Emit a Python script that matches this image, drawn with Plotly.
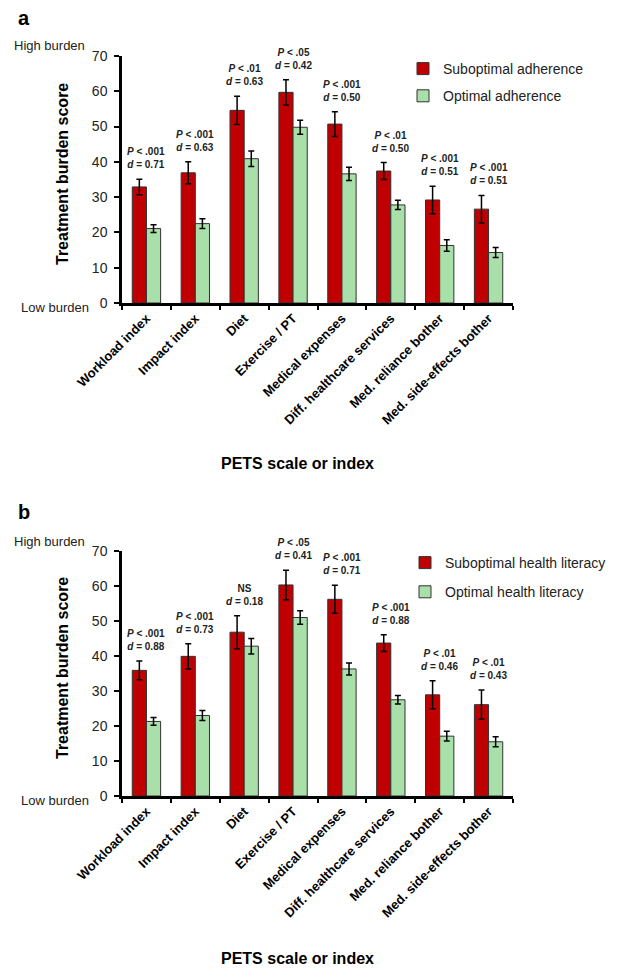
import plotly.graph_objects as go

categories = ["Workload index", "Impact index", "Diet", "Exercise / PT",
              "Medical expenses", "Diff. healthcare services",
              "Med. reliance bother", "Med. side-effects bother"]

# Panel a: adherence
a_sub = [32.9, 36.9, 54.6, 59.7, 50.7, 37.4, 29.2, 26.6]
a_sub_err = [2.2, 3.1, 4.0, 3.6, 3.5, 2.4, 3.9, 3.9]
a_opt = [21.1, 22.5, 40.9, 49.8, 36.6, 27.8, 16.3, 14.3]
a_opt_err = [1.1, 1.4, 2.2, 2.0, 1.9, 1.3, 1.6, 1.4]
a_p = ["P < .001", "P < .001", "P < .01", "P < .05", "P < .001", "P < .01", "P < .001", "P < .001"]
a_d = ["0.71", "0.63", "0.63", "0.42", "0.50", "0.50", "0.51", "0.51"]

# Panel b: health literacy
b_sub = [35.9, 39.9, 46.8, 60.3, 56.2, 43.7, 28.9, 26.1]
b_sub_err = [2.7, 3.6, 4.7, 4.2, 4.0, 2.4, 4.0, 4.2]
b_opt = [21.3, 23.0, 42.8, 51.0, 36.3, 27.5, 17.1, 15.5]
b_opt_err = [1.1, 1.4, 2.2, 1.9, 1.7, 1.2, 1.4, 1.4]
b_p = ["P < .001", "P < .001", "NS", "P < .05", "P < .001", "P < .001", "P < .01", "P < .01"]
b_d = ["0.88", "0.73", "0.18", "0.41", "0.71", "0.88", "0.46", "0.43"]

y_ticks = [0, 10, 20, 30, 40, 50, 60, 70]

RED = "#C00000"
GREEN = "#A9DFA9"
FONT = "Liberation Sans, Arial, sans-serif"
OFF = 8  # page body margin
W, H = 624 - OFF, 969 - OFF

def px_x(p):
    return (p - OFF) / W

def px_y(p):
    return 1 - (p - OFF) / H

fig = go.Figure()

def add_panel(xa, ya, sub, sub_err, opt, opt_err, names, legend):
    fig.add_trace(go.Bar(
        x=categories, y=sub, name=names[0], xaxis=xa, yaxis=ya,
        marker=dict(color=RED, line=dict(color="#333333", width=1)),
        error_y=dict(type="data", array=sub_err, color="black", thickness=1.5, width=3),
        legend=legend, legendgroup=legend + "s"))
    fig.add_trace(go.Bar(
        x=categories, y=opt, name=names[1], xaxis=xa, yaxis=ya,
        marker=dict(color=GREEN, line=dict(color="#333333", width=1)),
        error_y=dict(type="data", array=opt_err, color="black", thickness=1.5, width=3),
        legend=legend, legendgroup=legend + "o"))

add_panel("x", "y", a_sub, a_sub_err, a_opt, a_opt_err,
          ["Suboptimal adherence", "Optimal adherence"], "legend")
add_panel("x2", "y2", b_sub, b_sub_err, b_opt, b_opt_err,
          ["Suboptimal health literacy", "Optimal health literacy"], "legend2")

def fmt_p(p):
    if p.startswith("P"):
        return "<b><i>P</i>" + p[1:].replace("<", "&lt;") + "</b>"
    return "<b>" + p + "</b>"

annotations = []
for xr, yr, sub, sub_err, ps, ds in [("x", "y", a_sub, a_sub_err, a_p, a_d),
                                     ("x2", "y2", b_sub, b_sub_err, b_p, b_d)]:
    for c, v, e, p, d in zip(categories, sub, sub_err, ps, ds):
        annotations.append(dict(
            x=c, y=v + e, xref=xr, yref=yr, yanchor="bottom", yshift=7,
            text=fmt_p(p) + "<br><b><i>d</i> = " + d + "</b>",
            showarrow=False, font=dict(size=10, color="#222222", family=FONT)))

# Panel geometry (reference px)
panels = [dict(top=56, bottom=303, letter_y=18, title_y=464, ylab_y=174),
          dict(top=551, bottom=796, letter_y=512, title_y=958, ylab_y=668)]
for pnl, letter in zip(panels, ["a", "b"]):
    annotations.append(dict(x=px_x(16), y=px_y(pnl["letter_y"]), xref="paper", yref="paper",
                            xanchor="left", yanchor="middle", showarrow=False,
                            text="<b>" + letter + "</b>", font=dict(size=20, color="black", family=FONT)))
    annotations.append(dict(x=px_x(87), y=px_y(pnl["top"] - 10), xref="paper", yref="paper",
                            xanchor="right", yanchor="middle", showarrow=False,
                            text="High burden", font=dict(size=13, color="#222222", family=FONT)))
    annotations.append(dict(x=px_x(91), y=px_y(pnl["bottom"] + 4), xref="paper", yref="paper",
                            xanchor="right", yanchor="middle", showarrow=False,
                            text="Low burden", font=dict(size=13, color="#222222", family=FONT)))
    annotations.append(dict(x=px_x(62), y=px_y(pnl["ylab_y"]), xref="paper", yref="paper",
                            xanchor="center", yanchor="middle", showarrow=False, textangle=-90,
                            text="<b>Treatment burden score</b>", font=dict(size=16, color="black", family=FONT)))
    annotations.append(dict(x=px_x(297), y=px_y(pnl["title_y"]), xref="paper", yref="paper",
                            xanchor="center", yanchor="middle", showarrow=False,
                            text="<b>PETS scale or index</b>", font=dict(size=16, color="black", family=FONT)))

xdom = [px_x(122), px_x(513)]

def xaxis_cfg(anchor):
    return dict(domain=xdom, anchor=anchor, type="category", range=[-0.5, 7.5],
                showline=True, linecolor="black", linewidth=2.5,
                ticks="outside", tickson="boundaries", ticklen=4, tickwidth=1.5, tickcolor="black",
                tickangle=-45, tickfont=dict(size=13, color="black", family=FONT, weight="bold"),
                showgrid=False, zeroline=False, automargin=False)

def yaxis_cfg(anchor, pnl):
    return dict(domain=[px_y(pnl["bottom"]), px_y(pnl["top"])], anchor=anchor,
                range=[0, 70], tickvals=y_ticks,
                showline=True, linecolor="black", linewidth=2.5,
                ticks="outside", ticklen=5, tickwidth=1.5, tickcolor="black",
                ticklabelstandoff=4,
                tickfont=dict(size=14, color="#222222", family=FONT),
                showgrid=False, zeroline=False, automargin=False)

fig.update_layout(
    width=W, height=H, margin=dict(l=0, r=0, t=0, b=0),
    paper_bgcolor="white", plot_bgcolor="white",
    font=dict(family=FONT, color="black"),
    barmode="group", bargap=0.42, bargroupgap=0,
    xaxis=xaxis_cfg("y"), yaxis=yaxis_cfg("x", panels[0]),
    xaxis2=xaxis_cfg("y2"), yaxis2=yaxis_cfg("x2", panels[1]),
    legend=dict(x=px_x(403), y=px_y(53), xanchor="left", yanchor="top",
                traceorder="grouped", tracegroupgap=6, bgcolor="rgba(0,0,0,0)",
                font=dict(size=14, color="#222222", family=FONT)),
    legend2=dict(x=px_x(405), y=px_y(547), xanchor="left", yanchor="top",
                 traceorder="grouped", tracegroupgap=8, bgcolor="rgba(0,0,0,0)",
                 font=dict(size=14, color="#222222", family=FONT)),
    annotations=annotations,
    showlegend=True,
)

fig.write_html("out.html")
